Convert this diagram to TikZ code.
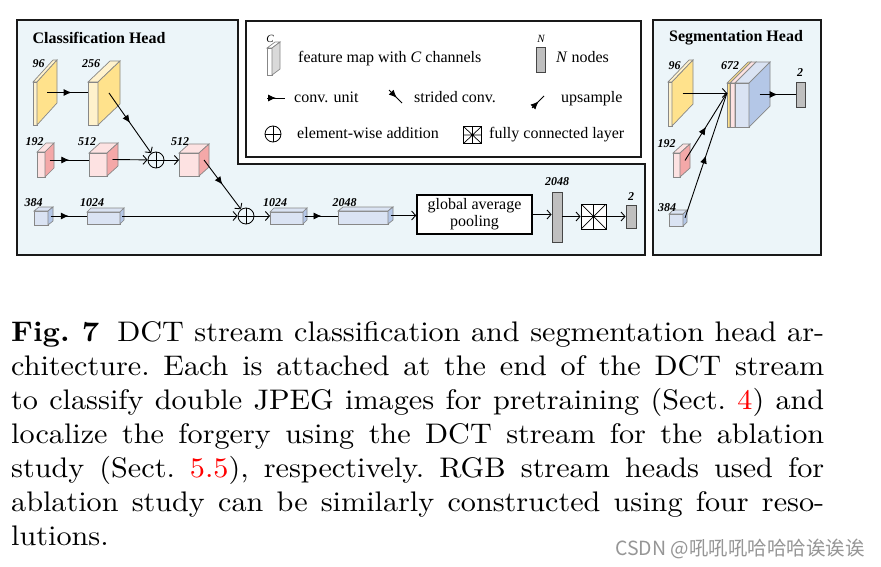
\documentclass[tikz,border=0pt]{standalone}
\usepackage{fontspec}
\usepackage{graphicx}
\newfontfamily\tms{Liberation Serif}
\newfontfamily\cjk{Noto Sans CJK SC}
\newfontfamily\capfont{lmroman10-regular.otf}[BoldFont=lmroman10-bold.otf]
\usetikzlibrary{arrows.meta,decorations.markings}
\definecolor{panelbg}{RGB}{236,245,249}
\definecolor{ycream}{RGB}{255,242,204}
\definecolor{yside}{RGB}{255,226,140}
\definecolor{pfront}{RGB}{253,226,226}
\definecolor{pside}{RGB}{244,168,168}
\definecolor{bfront}{RGB}{218,227,243}
\definecolor{bside}{RGB}{180,199,231}
\definecolor{boxline}{RGB}{135,135,135}
\definecolor{barfill}{RGB}{191,191,191}
\definecolor{barline}{RGB}{70,70,70}
\definecolor{iconside}{RGB}{217,217,217}
\definecolor{linkred}{RGB}{255,0,0}
\definecolor{wmgray}{RGB}{150,150,150}
% name, x, y(bottom), w, h, dx, dy, front, side
\newcommand{\cuboid}[9]{%
  \filldraw[draw=boxline,line width=0.7pt,fill=#8] (#2,#3) rectangle ++(#4,-#5);
  \filldraw[draw=boxline,line width=0.7pt,fill=#8] (#2,{#3-#5}) -- ++(#4,0) -- ++(#6,-#7) -- ++(-#4,0) -- cycle;
  \filldraw[draw=boxline,line width=0.7pt,fill=#9] ({#2+#4},#3) -- ++(0,-#5) -- ++(#6,-#7) -- ++(0,#5) -- cycle;
  \node[anchor=south west,inner sep=0,minimum width=#4pt,minimum height=#5pt] (#1) at (#2,#3) {};
  \coordinate (#1s) at ({#2+#4+0.5*#6},{#3-0.5*#5-0.5*#7});
}
\tikzset{
  midarrow/.style={postaction={decorate},decoration={markings,mark=at position #1 with {\arrow{Latex[length=8pt,width=7pt]}}}},
  midarrow/.default=0.5,
  conn/.style={line width=0.9pt,draw=black},
  endtip/.style={-{Straight Barb[length=4pt,width=9pt,line width=0.9pt]}},
  lbl/.style={font=\tms\bfseries\itshape\fontsize{12pt}{14pt}\selectfont,inner sep=0},
  legtxt/.style={font=\tms\fontsize{16pt}{18pt}\selectfont,inner sep=0,anchor=base west},
  headtitle/.style={font=\tms\bfseries\fontsize{16pt}{18pt}\selectfont,inner sep=0},
  panel/.style={line width=1.6pt,draw=black!90,fill=panelbg},
  plusnode/.style={circle,draw,line width=0.8pt,minimum size=16pt,inner sep=0,
    path picture={\draw[line width=0.8pt] (path picture bounding box.north) -- (path picture bounding box.south)
      (path picture bounding box.west) -- (path picture bounding box.east);}},
  fcnode/.style={draw,line width=0.8pt,fill=white,inner sep=0,
    path picture={\draw[line width=0.7pt] (path picture bounding box.north west) -- (path picture bounding box.south east)
      (path picture bounding box.south west) -- (path picture bounding box.north east)
      (path picture bounding box.north) -- (path picture bounding box.south)
      (path picture bounding box.west) -- (path picture bounding box.east);}},
  barnode/.style={draw=barline,line width=0.8pt,fill=barfill,inner sep=0},
}
\begin{document}
\begin{tikzpicture}[x=1pt,y=-1pt]
\useasboundingbox (0,0) rectangle (881,567);
\fill[white] (0,0) rectangle (881,567);

% ---------- panels ----------
\draw[panel] (17,20) -- (238,20) -- (238,164) -- (645,164) -- (645,255) -- (17,255) -- cycle;
\draw[line width=1.6pt,draw=black!90,fill=white] (246,21) rectangle (641,157);
\draw[panel] (653,20) rectangle (821,255);

\node[headtitle] (ctitle) at (99,38) {Classification Head};
\node[headtitle] (stitle) at (736,38) {Segmentation Head};

% ---------- classification head ----------
\cuboid{c96}{33}{125}{4}{43}{20}{22}{ycream}{yside}
\cuboid{c256}{88}{125}{10}{43}{22}{21}{ycream}{yside}
\cuboid{c192}{37}{177}{8}{25}{9}{9}{pfront}{pside}
\cuboid{c512a}{89}{176}{18}{23}{11}{10}{pfront}{pside}
\cuboid{c512b}{179}{176}{20}{23}{10}{9}{pfront}{pside}
\cuboid{c384}{34}{225}{14}{14}{5}{4}{bfront}{bside}
\cuboid{c1024a}{87}{224}{33}{12}{4}{4}{bfront}{bside}
\cuboid{c1024b}{270}{224}{33}{12}{4}{4}{bfront}{bside}
\cuboid{c2048}{338}{224}{50}{13}{5}{4}{bfront}{bside}

\node[lbl] (l96) at (38.5,64) {96};
\node[lbl] (l256) at (91,64) {256};
\node[lbl] (l192) at (34.5,142) {192};
\node[lbl] (l512a) at (87,142) {512};
\node[lbl] (l512b) at (180,142) {512};
\node[lbl] (l384) at (33.5,203) {384};
\node[lbl] (l1024a) at (92,203) {1024};
\node[lbl] (l1024b) at (275,203) {1024};
\node[lbl] (l2048) at (344.5,203) {2048};
\node[lbl] (l2048b) at (557,182) {2048};
\node[lbl] (l2) at (631,197) {2};

\node[plusnode] (plus1) at (156,160) {};
\node[plusnode] (plus2) at (246,216) {};
\node[draw,line width=1.6pt,fill=white,minimum width=115pt,minimum height=39pt,inner sep=0,align=center,
  font=\tms\fontsize{16pt}{17pt}\selectfont] (gap) at (474.5,214.5) {global average\\pooling};
\node[barnode,minimum width=10pt,minimum height=50pt] (bar2048) at (557,217) {};
\node[fcnode,minimum width=25pt,minimum height=25pt] (fc) at (593.5,216.5) {};
\node[barnode,minimum width=10pt,minimum height=23pt] (bar2) at (631,216.5) {};

\draw[conn,midarrow=0.6] (c96s) -- (c96s -| c256.west);
\draw[conn,midarrow] (c192s) -- (c192s -| c512a.west);
\draw[conn,endtip] (c512as) -- (plus1);
\draw[conn,midarrow,endtip] (c256s) -- (plus1);
\draw[conn,endtip] (plus1) -- (plus1 -| c512b.west);
\draw[conn,midarrow] (c384s) -- (c384s -| c1024a.west);
\draw[conn,endtip] (c1024as) -- (plus2);
\draw[conn,midarrow,endtip] (c512bs) -- (plus2);
\draw[conn,endtip] (plus2) -- (plus2 -| c1024b.west);
\draw[conn,midarrow] (c1024bs) -- (c1024bs -| c2048.west);
\draw[conn,endtip] (c2048s) -- (c2048s -| gap.west);
\draw[conn,endtip] (gap.east) -- (gap.east -| bar2048.west);
\draw[conn,endtip] (bar2048.east |- fc.west) -- (fc.west);
\draw[conn,endtip] (fc.east) -- (fc.east -| bar2.west);

% ---------- legend ----------
\cuboid{lc}{267}{75}{5}{27}{8}{6}{white}{iconside}
\node[font=\tms\itshape\fontsize{11pt}{12pt}\selectfont,inner sep=0] (lcC) at (270,39) {C};
\node[legtxt] (lt1) at (298,63) {feature map with \textit{C} channels};
\node[barnode,minimum width=9pt,minimum height=25pt] (lbar) at (540.5,59.5) {};
\node[font=\tms\itshape\fontsize{11pt}{12pt}\selectfont,inner sep=0] (lbN) at (541,39) {N};
\node[legtxt] (lt2) at (556,63) {\textit{N} nodes};

\coordinate (cu1) at (267,98); \coordinate (cu2) at (285,98);
\draw[conn,midarrow] (cu1) -- (cu2);
\node[legtxt] (lt3) at (294,103) {conv. unit};
\coordinate (sc1) at (389,90); \coordinate (sc2) at (402,103);
\draw[conn,midarrow=0.6] (sc1) -- (sc2);
\node[legtxt] (lt4) at (414,103) {strided conv.};
\coordinate (us1) at (532,108); \coordinate (us2) at (544,96);
\draw[conn,midarrow=0.55] (us1) -- (us2);
\node[legtxt] (lt5) at (561,103) {upsample};

\node[plusnode] (lplus) at (273,134) {};
\node[legtxt] (lt6) at (297,139) {element-wise addition};
\node[fcnode,minimum width=18pt,minimum height=17pt] (lfc) at (472.5,135) {};
\node[legtxt] (lt7) at (489,139) {fully connected layer};

% ---------- segmentation head ----------
\cuboid{s96}{668}{126}{4}{44}{21}{22}{ycream}{yside}
\cuboid{s192}{673}{177}{7}{24}{10}{9}{pfront}{pside}
\cuboid{s384}{669}{226}{14}{12}{4}{4}{bfront}{bside}
\cuboid{sy}{727}{127}{3}{44}{21}{21}{yside}{yside}
\cuboid{sp}{730}{127}{5}{44}{21}{21}{pfront}{pside}
\cuboid{sb}{735}{127}{14}{44}{21}{21}{bfront}{bside}
\node[barnode,minimum width=9pt,minimum height=25pt] (s2) at (800.5,94.5) {};
\coordinate (sin) at (727,93);

\node[lbl] (sl96) at (674.5,66) {96};
\node[lbl] (sl672) at (730,66) {672};
\node[lbl] (sl2) at (800,73) {2};
\node[lbl] (sl192) at (666.5,144) {192};
\node[lbl] (sl384) at (667,208) {384};

\draw[conn,endtip] (s96s) -- (s96s -| sin);
\draw[conn,midarrow] (s192s) -- (sin);
\draw[conn,midarrow] (s384s) -- (sin);
\draw[conn,midarrow] (sbs) -- (sbs -| s2.west);

% ---------- caption ----------
\node[anchor=base west,inner sep=0] (caption) at (11,341) {\capfont\fontsize{28.3pt}{34pt}\selectfont\frenchspacing
\scalebox{1.067}[1]{\parbox[t]{762pt}{%
\hbox to\hsize{\textbf{Fig.~7}\hspace{0.6em}DCT stream classification and segmentation head ar-}
\hbox to\hsize{chitecture. Each is attached at the end of the DCT stream}
\hbox to\hsize{to classify double JPEG images for pretraining (Sect.~\textcolor{linkred}{4}) and}
\hbox to\hsize{localize the forgery using the DCT stream for the ablation}
\hbox to\hsize{study (Sect.~\textcolor{linkred}{5.5}), respectively. RGB stream heads used for}
\hbox to\hsize{ablation study can be similarly constructed using four reso-}
\hbox{lutions.}}}};

\node[text=wmgray,font=\cjk\fontsize{19.5pt}{21pt}\selectfont,inner sep=0] (wm) at (740,549) {CSDN @吼吼吼哈哈哈诶诶诶};
\end{tikzpicture}
\end{document}
